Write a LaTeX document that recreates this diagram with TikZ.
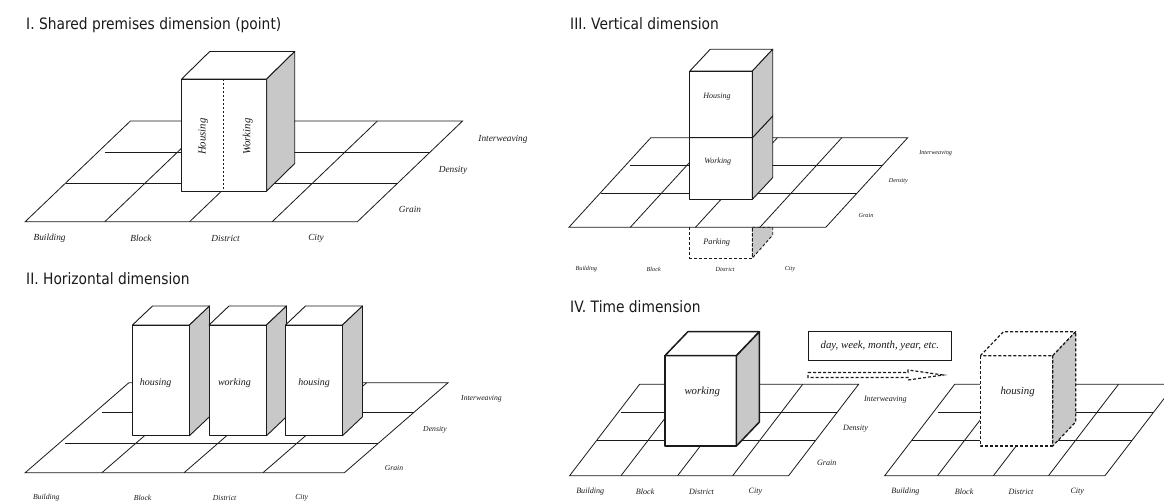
\documentclass[tikz,border=0pt]{standalone}
\usepackage{fontspec}
\setmainfont{Liberation Serif}
\newfontfamily\titlefont[FakeStretch=0.88]{DejaVu Sans}
\usetikzlibrary{calc}

\definecolor{ink}{HTML}{1A1A1A}
\definecolor{sidegray}{HTML}{C8C8C8}

\tikzset{
  plane/.style={draw=ink, line width=0.8pt},
  facefront/.style={draw=ink, fill=white, line width=0.9pt, line join=round},
  faceside/.style={draw=ink, fill=sidegray, line width=0.9pt, line join=round},
  heading/.style={anchor=base west, inner sep=0pt, text=ink,
    font=\titlefont\fontsize{15.7}{18}\selectfont},
  tagI/.style={inner sep=0pt, text=ink, font=\itshape\fontsize{9.3}{11}\selectfont},
  tagII/.style={inner sep=0pt, text=ink, font=\itshape\fontsize{7.7}{9}\selectfont},
  tagIII/.style={inner sep=0pt, text=ink, font=\itshape\fontsize{6.2}{7}\selectfont},
  tagIV/.style={inner sep=0pt, text=ink, font=\itshape\fontsize{8.1}{10}\selectfont},
  use/.style={inner sep=0pt, text=ink, font=\itshape\fontsize{#1}{12}\selectfont},
  dashedge/.style={dash pattern=on 3pt off 2pt, line width=1.2pt},
}

% cube: [style]{left x}{top y}{width}{height}{depth dx}{depth dy}
\newcommand\blockcube[7][]{%
  \path[facefront,#1] (#2,#3) rectangle ++(#4,#5);
  \path[facefront,#1] (#2,#3) -- ++(#6,-#7) -- ++(#4,0) -- ++(-#6,#7) -- cycle;
  \path[faceside,#1] ({#2+#4},#3) -- ++(#6,-#7) -- ++(0,#5) -- ++(-#6,#7) -- cycle;
}

\begin{document}
\begin{tikzpicture}[x=1pt, y=-1pt]
\useasboundingbox (0,0) rectangle (1164,502);
\fill[white] (0,0) rectangle (1164,502);

% ---------------- I. Shared premises ----------------
\node[heading] (titleI) at (26,29.8) {I. Shared premises dimension (point)};

\draw[plane] (25.2,221.7) -- (357.4,221.7) -- (462.6,121) -- (130.4,121) -- cycle;
\draw[plane] (104.8,152.3) -- (429.9,152.3);
\draw[plane] (65.9,183) -- (397.8,183);
\draw[plane] (104.8,221.7) -- (210,121);
\draw[plane] (189.6,221.7) -- (294.8,121);
\draw[plane] (272.2,221.7) -- (377.4,121);

\blockcube{181.7}{79}{85}{112}{28}{27.5}
\draw[ink, line width=0.9pt, dash pattern=on 2.5pt off 1.5pt] (223.3,79) -- (223.3,191);
\node[use=10.8, rotate=90] (houseI) at (203.3,136.7) {Housing};
\node[use=10.8, rotate=90] (workI) at (247.7,136.7) {Working};

\node[tagI] (bI) at (49.6,238) {Building};
\node[tagI] (kI) at (141,238) {Block};
\node[tagI] (dI) at (225.6,238) {District};
\node[tagI] (cI) at (316,238) {City};
\node[tagI] (iwI) at (503,139) {Interweaving};
\node[tagI] (deI) at (453,170) {Density};
\node[tagI] (grI) at (410,209) {Grain};

% ---------------- II. Horizontal ----------------
\node[heading] (titleII) at (26,285) {II. Horizontal dimension};

\draw[plane] (25.2,472.7) -- (344.4,472.7) -- (448.1,382.7) -- (128.9,382.7) -- cycle;
\draw[plane] (101.9,412.7) -- (413.6,412.7);
\draw[plane] (64.8,443.3) -- (378.3,443.3);
\draw[plane] (101.9,472.7) -- (205.6,382.7);
\draw[plane] (184.1,472.7) -- (287.8,382.7);
\draw[plane] (263,472.7) -- (366.7,382.7);

\blockcube{132.5}{325}{57}{110.7}{20}{19}
\blockcube{209}{325}{57.5}{110.7}{20}{19}
\blockcube{285.5}{325}{57}{110.7}{20}{19}
\node[use=10] (houseIIa) at (155.6,383.3) {housing};
\node[use=10] (workII) at (234.4,383.3) {working};
\node[use=10] (houseIIb) at (314.1,383.3) {housing};

\node[tagII] (bII) at (46.3,498) {Building};
\node[tagII] (kII) at (142.6,498) {Block};
\node[tagII] (dII) at (224.6,498) {District};
\node[tagII] (cII) at (301.7,498) {City};
\node[tagII] (iwII) at (481.5,399) {Interweaving};
\node[tagII] (deII) at (435,430) {Density};
\node[tagII] (grII) at (394,468.3) {Grain};

% ---------------- III. Vertical ----------------
\node[heading] (titleIII) at (570,29.8) {III. Vertical dimension};

% underground parking (below the plane)
\path[faceside, dashedge, line width=0.9pt] (752.4,227.3) -- (772.7,227.3) -- (772.7,235) -- (752.4,258) -- cycle;
\draw[ink, line width=0.9pt, dash pattern=on 3pt off 2pt] (689.9,227.3) -- (689.9,258) -- (752.4,258) -- (752.4,227.3);

\draw[plane] (568.9,227.3) -- (825.8,227.3) -- (907.7,137.7) -- (650.8,137.7) -- cycle;
\draw[plane] (630.3,165.3) -- (882.4,165.3);
\draw[plane] (600.5,193) -- (857.1,193);
\draw[plane] (630.3,227.3) -- (712.2,137.7);
\draw[plane] (695.5,227.3) -- (777.4,137.7);
\draw[plane] (759.9,227.3) -- (841.8,137.7);

\blockcube{689.9}{137.7}{62.5}{61.6}{20.3}{21.7}
\blockcube{689.9}{71}{62.5}{66.7}{20.3}{21.7}
\node[use=8] (houseIII) at (717,96.7) {Housing};
\node[use=8] (workIII) at (717.8,162) {Working};
\node[use=8.3] (parkIII) at (716.7,242.7) {Parking};

\node[tagIII] (bIII) at (586.3,269.3) {Building};
\node[tagIII] (kIII) at (653.7,269.3) {Block};
\node[tagIII] (dIII) at (725,269.3) {District};
\node[tagIII] (cIII) at (790,269.3) {City};
\node[tagIII] (iwIII) at (935.6,153.3) {Interweaving};
\node[tagIII] (deIII) at (898.4,180.7) {Density};
\node[tagIII] (grIII) at (866,215) {Grain};

% ---------------- IV. Time ----------------
\node[heading] (titleIV) at (570,313) {IV. Time dimension};

% first state
\draw[plane] (569.6,475.7) -- (788.6,475.7) -- (858.6,384.3) -- (639.6,384.3) -- cycle;
\draw[plane] (621,412.7) -- (836.8,412.7);
\draw[plane] (596.8,440.7) -- (815.4,440.7);
\draw[plane] (621,475.7) -- (691,384.3);
\draw[plane] (677.6,475.7) -- (747.6,384.3);
\draw[plane] (732.7,475.7) -- (802.7,384.3);

\blockcube[line width=1.5pt]{664.9}{355.7}{71.5}{90.3}{23}{24}
\node[use=10.8] (workIV) at (702.2,391.7) {working};

\node[tagIV] (bIVa) at (590.2,491.7) {Building};
\node[tagIV] (kIVa) at (645.2,491.7) {Block};
\node[tagIV] (dIVa) at (701.5,491.7) {District};
\node[tagIV] (cIVa) at (755.4,491.7) {City};
\node[tagIV] (iwIV) at (885.4,400) {Interweaving};
\node[tagIV] (deIV) at (855.6,428.3) {Density};
\node[tagIV] (grIV) at (826.7,463.3) {Grain};

% period label and transition arrow
\node[draw=ink, line width=1.1pt, minimum width=143.7pt, minimum height=28.8pt,
      inner sep=0pt, use=10.8] (period) at (879.9,346.1) {day, week, month, year, etc.};
\coordinate (tail) at (808,375);
\coordinate (tip) at (943,375);
\draw[ink, dashedge, line join=miter]
  ($(tail)+(0,-2.5)$) -- ($(tip)+(-35,-2.5)$) -- ($(tip)+(-35,-5)$) -- (tip)
  -- ($(tip)+(-35,5)$) -- ($(tip)+(-35,2.5)$) -- ($(tail)+(0,2.5)$) -- cycle;

% later state
\begin{scope}
\clip (0,0) rectangle (1164,502);
\draw[plane] (884.7,475.7) -- (1105,475.7) -- (1175,384.3) -- (954.7,384.3) -- cycle;
\draw[plane] (937.5,412.7) -- (1152.9,412.7);
\draw[plane] (911.5,440.7) -- (1131.8,440.7);
\draw[plane] (937.5,475.7) -- (1007.5,384.3);
\draw[plane] (993.4,475.7) -- (1063.4,384.3);
\draw[plane] (1048.5,475.7) -- (1118.5,384.3);
\end{scope}

\blockcube[dashedge]{980.4}{355.7}{72.3}{90.3}{23}{24}
\node[use=10.8] (houseIV) at (1017.6,391.7) {housing};

\node[tagIV] (bIVb) at (905.4,491.7) {Building};
\node[tagIV] (kIVb) at (964.2,491.7) {Block};
\node[tagIV] (dIVb) at (1021,491.7) {District};
\node[tagIV] (cIVb) at (1077.3,491.7) {City};
\end{tikzpicture}
\end{document}
